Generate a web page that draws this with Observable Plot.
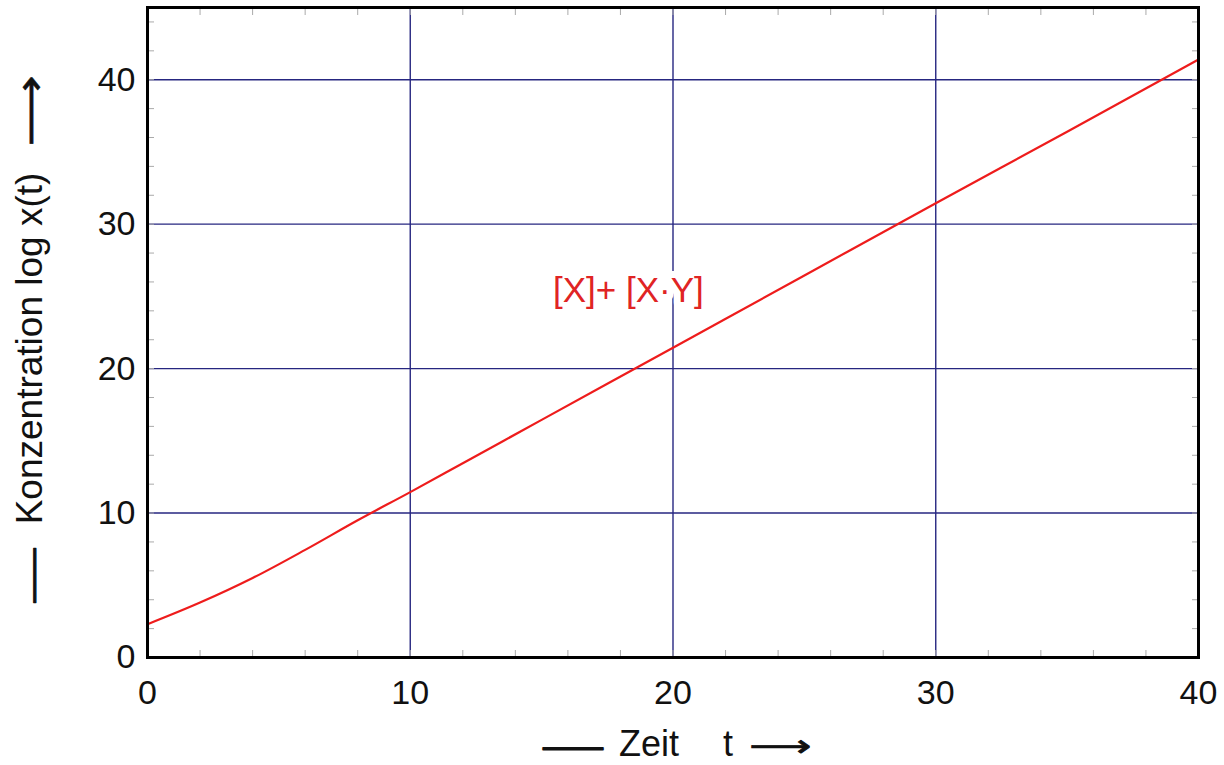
<!DOCTYPE html>
<html>
<head>
<meta charset="utf-8">
<script src="https://cdn.jsdelivr.net/npm/d3@7"></script>
<script src="https://cdn.jsdelivr.net/npm/@observablehq/plot@0.6"></script>
<style>
  html, body { margin: 0; padding: 0; background: #fff; }
  svg { display: block; }
</style>
</head>
<body>
<div id="chart"></div>
<script>
// Data
const times = [0, 2, 4, 6, 8, 10, 12, 15, 20, 25, 30, 35, 40];
const values = [2.3, 3.8, 5.5, 7.45, 9.5, 11.45, 13.45, 16.45, 21.45, 26.45, 31.45, 36.4, 41.4];
const xMajorTicks = [0, 10, 20, 30, 40];
const yMajorTicks = [0, 10, 20, 30, 40];
const xMinorTicks = d3.range(0, 41, 2);
const yMinorTicks = d3.range(0, 45, 2);
const seriesLabel = { t: 18.3, v: 25.4, text: "[X]+ [X·Y]" };
const xTitleWord = "Zeit";
const xTitleVar = "t";
const yTitleWords = "Konzentration log x(t)";
const dashGlyph = "—";
const arrowGlyph = "⟶";

const rows = times.map((t, i) => ({ t, v: values[i] }));

const gridColor = "#262680";
const red = "#ee1c1c";
const font = "'Liberation Sans', Arial, Helvetica, 'DejaVu Sans', sans-serif";
const arrowFont = "'DejaVu Sans', sans-serif";
const ink = "#111";

const chart = Plot.plot({
  width: 1224,
  height: 765,
  marginLeft: 147,
  marginRight: 26,
  marginTop: 7,
  marginBottom: 108,
  style: { fontFamily: font, background: "#fff", color: ink },
  x: { domain: [0, 40] },
  y: { domain: [0, 45] },
  marks: [
    Plot.gridX([10, 20, 30], { stroke: gridColor, strokeOpacity: 1, strokeWidth: 1.4 }),
    Plot.gridY([10, 20, 30, 40], { stroke: gridColor, strokeOpacity: 1, strokeWidth: 1.4 }),
    // minor inward ticks on all four sides
    Plot.axisX({ anchor: "bottom", ticks: xMinorTicks, tickSize: -7, text: null, stroke: "#aaa", label: null }),
    Plot.axisX({ anchor: "top", ticks: xMinorTicks, tickSize: -7, text: null, stroke: "#aaa", label: null }),
    Plot.axisY({ anchor: "left", ticks: yMinorTicks, tickSize: -7, text: null, stroke: "#aaa", label: null }),
    Plot.axisY({ anchor: "right", ticks: yMinorTicks, tickSize: -7, text: null, stroke: "#aaa", label: null }),
    // tick labels
    Plot.axisX({ anchor: "bottom", ticks: xMajorTicks, tickSize: 0, tickPadding: 22, fontSize: 34, label: null, fill: ink }),
    Plot.axisY({ anchor: "left", ticks: yMajorTicks, tickSize: 0, tickPadding: 12, fontSize: 34, label: null, fill: ink }),
    Plot.line(rows, { x: "t", y: "v", stroke: red, strokeWidth: 2.2, curve: "monotone-x" }),
    Plot.text([seriesLabel], {
      x: "t", y: "v", text: "text", fill: "#e02424", fontSize: 35,
      stroke: "white", strokeWidth: 14, textAnchor: "middle"
    }),
    Plot.frame({ stroke: "#000", strokeWidth: 3 }),
    // x title: "—— Zeit   t ——>"
    Plot.text([dashGlyph], { className: "xdash", frameAnchor: "bottom", lineAnchor: "middle", dx: -100, dy: 89, fontSize: 36, fill: ink, stroke: ink, strokeWidth: 0.9, textAnchor: "middle" }),
    Plot.text([xTitleWord], { frameAnchor: "bottom", lineAnchor: "middle", dx: -24, dy: 87, fontSize: 36, fill: ink, textAnchor: "middle" }),
    Plot.text([xTitleVar], { frameAnchor: "bottom", lineAnchor: "middle", dx: 55, dy: 87, fontSize: 36, fill: ink, textAnchor: "middle" }),
    Plot.text([arrowGlyph], { className: "xarrow", frameAnchor: "bottom", lineAnchor: "middle", dx: 107, dy: 89, fontSize: 30, fill: ink, stroke: ink, strokeWidth: 0.8, textAnchor: "middle", fontFamily: arrowFont }),
    // y title (rotated)
    Plot.text([dashGlyph], { className: "ydash", frameAnchor: "left", lineAnchor: "middle", dx: -115, dy: 243, rotate: -90, fontSize: 36, fill: ink, stroke: ink, strokeWidth: 0.9, textAnchor: "middle" }),
    Plot.text([yTitleWords], { frameAnchor: "left", lineAnchor: "middle", dx: -117, dy: 16, rotate: -90, fontSize: 37, fill: ink, textAnchor: "middle" }),
    Plot.text([arrowGlyph], { className: "yarrow", frameAnchor: "left", lineAnchor: "middle", dx: -116, dy: -222, rotate: -90, fontSize: 40, fill: ink, stroke: ink, strokeWidth: 0.5, textAnchor: "middle", fontFamily: arrowFont })
  ]
});

// stretch the dash and arrow glyphs to the reference's lengths
const stretch = { xdash: 60, xarrow: 62, ydash: 54, yarrow: 71 };
for (const [cls, len] of Object.entries(stretch)) {
  d3.select(chart).selectAll(`.${cls} text`)
    .attr("textLength", len)
    .attr("lengthAdjust", "spacingAndGlyphs");
}

document.getElementById("chart").appendChild(chart);
</script>
</body>
</html>
